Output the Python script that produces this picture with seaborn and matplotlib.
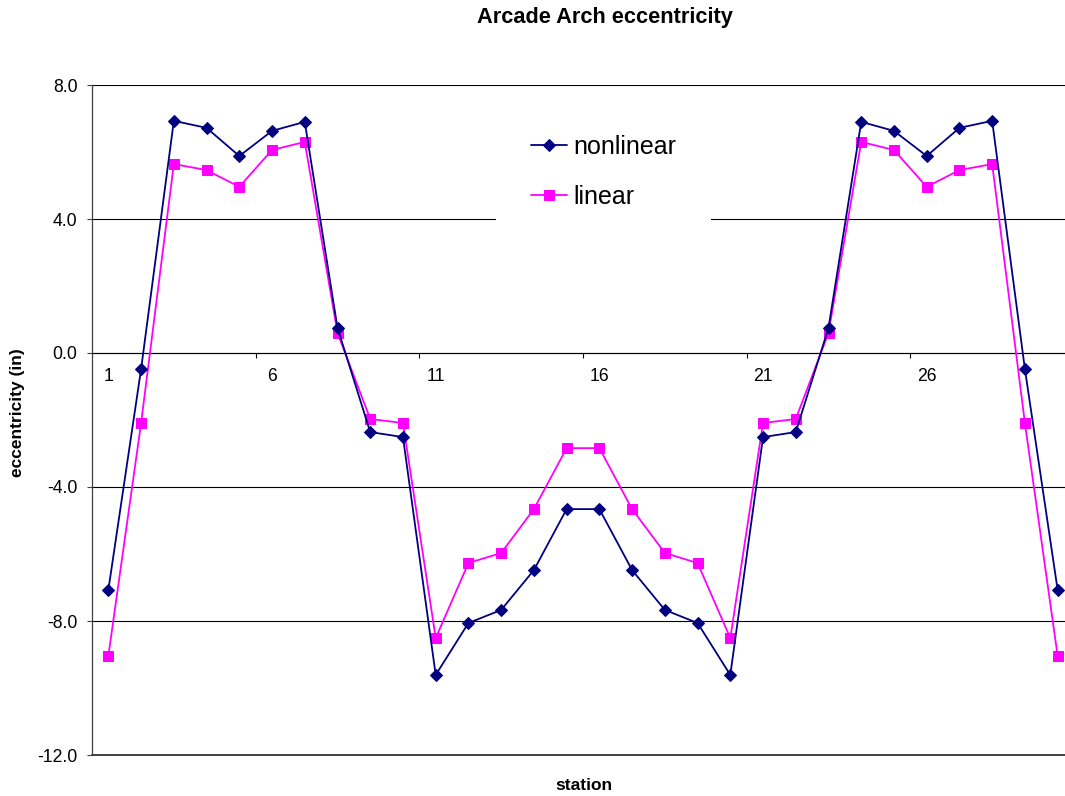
import matplotlib
matplotlib.use("Agg")
import matplotlib.pyplot as plt
import seaborn as sns
import numpy as np
import pandas as pd
from matplotlib.ticker import FixedLocator, FormatStrFormatter, NullFormatter

stations = list(range(1, 31))
nonlinear = [-7.07, -0.48, 6.93, 6.72, 5.88, 6.63, 6.90, 0.75, -2.36, -2.51,
             -9.61, -8.06, -7.67, -6.48, -4.66, -4.66, -6.48, -7.67, -8.06, -9.61,
             -2.51, -2.36, 0.75, 6.90, 6.63, 5.88, 6.72, 6.93, -0.48, -7.07]
linear = [-9.04, -2.09, 5.64, 5.46, 4.96, 6.06, 6.30, 0.60, -1.97, -2.09,
          -8.51, -6.27, -5.97, -4.66, -2.84, -2.84, -4.66, -5.97, -6.27, -8.51,
          -2.09, -1.97, 0.60, 6.30, 6.06, 4.96, 5.46, 5.64, -2.09, -9.04]
label_stations = [1, 6, 11, 16, 21, 26]
boundary_ticks = [5.5, 10.5, 15.5, 20.5, 25.5]
y_ticks = [8.0, 4.0, 0.0, -4.0, -8.0, -12.0]

sns.set_style("white")
plt.rcParams['font.family'] = ['Liberation Sans', 'DejaVu Sans']
plt.rcParams['axes.unicode_minus'] = False
plt.rcParams['text.color'] = 'black'
plt.rcParams['axes.labelcolor'] = 'black'
plt.rcParams['xtick.color'] = 'black'
plt.rcParams['ytick.color'] = 'black'

W, H = 1065, 796
fig = plt.figure(figsize=(W / 100, H / 100), dpi=100)
ax = fig.add_axes([92 / W, 1 - 755 / H, (1074 - 92) / W, (755 - 85) / H])

df = pd.DataFrame({"station": stations, "nonlinear": nonlinear, "linear": linear})

sns.lineplot(data=df, x="station", y="nonlinear", ax=ax, color="#000080",
             marker="D", markersize=6.5, markeredgecolor="#000080",
             linewidth=1.3, label="nonlinear", zorder=4)
sns.lineplot(data=df, x="station", y="linear", ax=ax, color="#FF00FF",
             marker="s", markersize=7.5, markeredgecolor="#FF00FF",
             linewidth=1.3, label="linear", zorder=3)

ax.set_xlim(0.5, 30.5)
ax.set_ylim(-12, 8)

# y axis
ax.yaxis.set_major_locator(FixedLocator(y_ticks))
ax.yaxis.set_major_formatter(FormatStrFormatter("%.1f"))
ax.tick_params(axis="y", which="major", direction="out", length=3.5, width=0.8,
               color="#404040", labelcolor="black", pad=7, labelsize=12.7, left=True)
ax.yaxis.grid(True, color="#000000", linewidth=0.8)
ax.set_axisbelow(True)
ax.axhline(-12, color="#404040", linewidth=1.4, clip_on=False, zorder=1)

# x axis at zero
ax.spines["bottom"].set_position(("data", 0))
ax.xaxis.set_major_locator(FixedLocator(boundary_ticks))
ax.xaxis.set_major_formatter(NullFormatter())
ax.xaxis.set_minor_locator(FixedLocator(label_stations))
ax.xaxis.set_minor_formatter(FormatStrFormatter("%d"))
ax.tick_params(axis="x", which="major", direction="out", length=3.5, width=0.8,
               color="#000000", bottom=True)
ax.tick_params(axis="x", which="minor", length=0, pad=11, labelsize=12.7,
               labelcolor="black", bottom=True)

for s in ["top", "right"]:
    ax.spines[s].set_visible(False)
ax.spines["left"].set_color("#404040")
ax.spines["left"].set_linewidth(0.9)
ax.spines["bottom"].set_color("#000000")
ax.spines["bottom"].set_linewidth(0.8)

ax.set_xlabel("")
ax.set_ylabel("")

leg = ax.legend(loc="upper left", bbox_to_anchor=(483 / W, 1 - 87 / H),
                bbox_transform=fig.transFigure, fontsize=18, frameon=True,
                facecolor="white", edgecolor="none", framealpha=1, fancybox=False,
                borderpad=1.4, handlelength=1.45, handletextpad=0.25,
                labelspacing=1.05)
leg.set_zorder(5)
for t in leg.get_texts():
    t.set_color("black")

fig.text(605 / W, 1 - 17.5 / H, "Arcade Arch eccentricity", ha="center", va="center",
         fontsize=15.7, fontweight="bold", color="black")
fig.text(18 / W, 1 - 413 / H, "eccentricity (in)", ha="center", va="center",
         rotation=90, fontsize=12.5, fontweight="bold", color="black")
fig.text(584 / W, 1 - 786 / H, "station", ha="center", va="center",
         fontsize=12.5, fontweight="bold", color="black")

fig.savefig("out.png", dpi=100)
